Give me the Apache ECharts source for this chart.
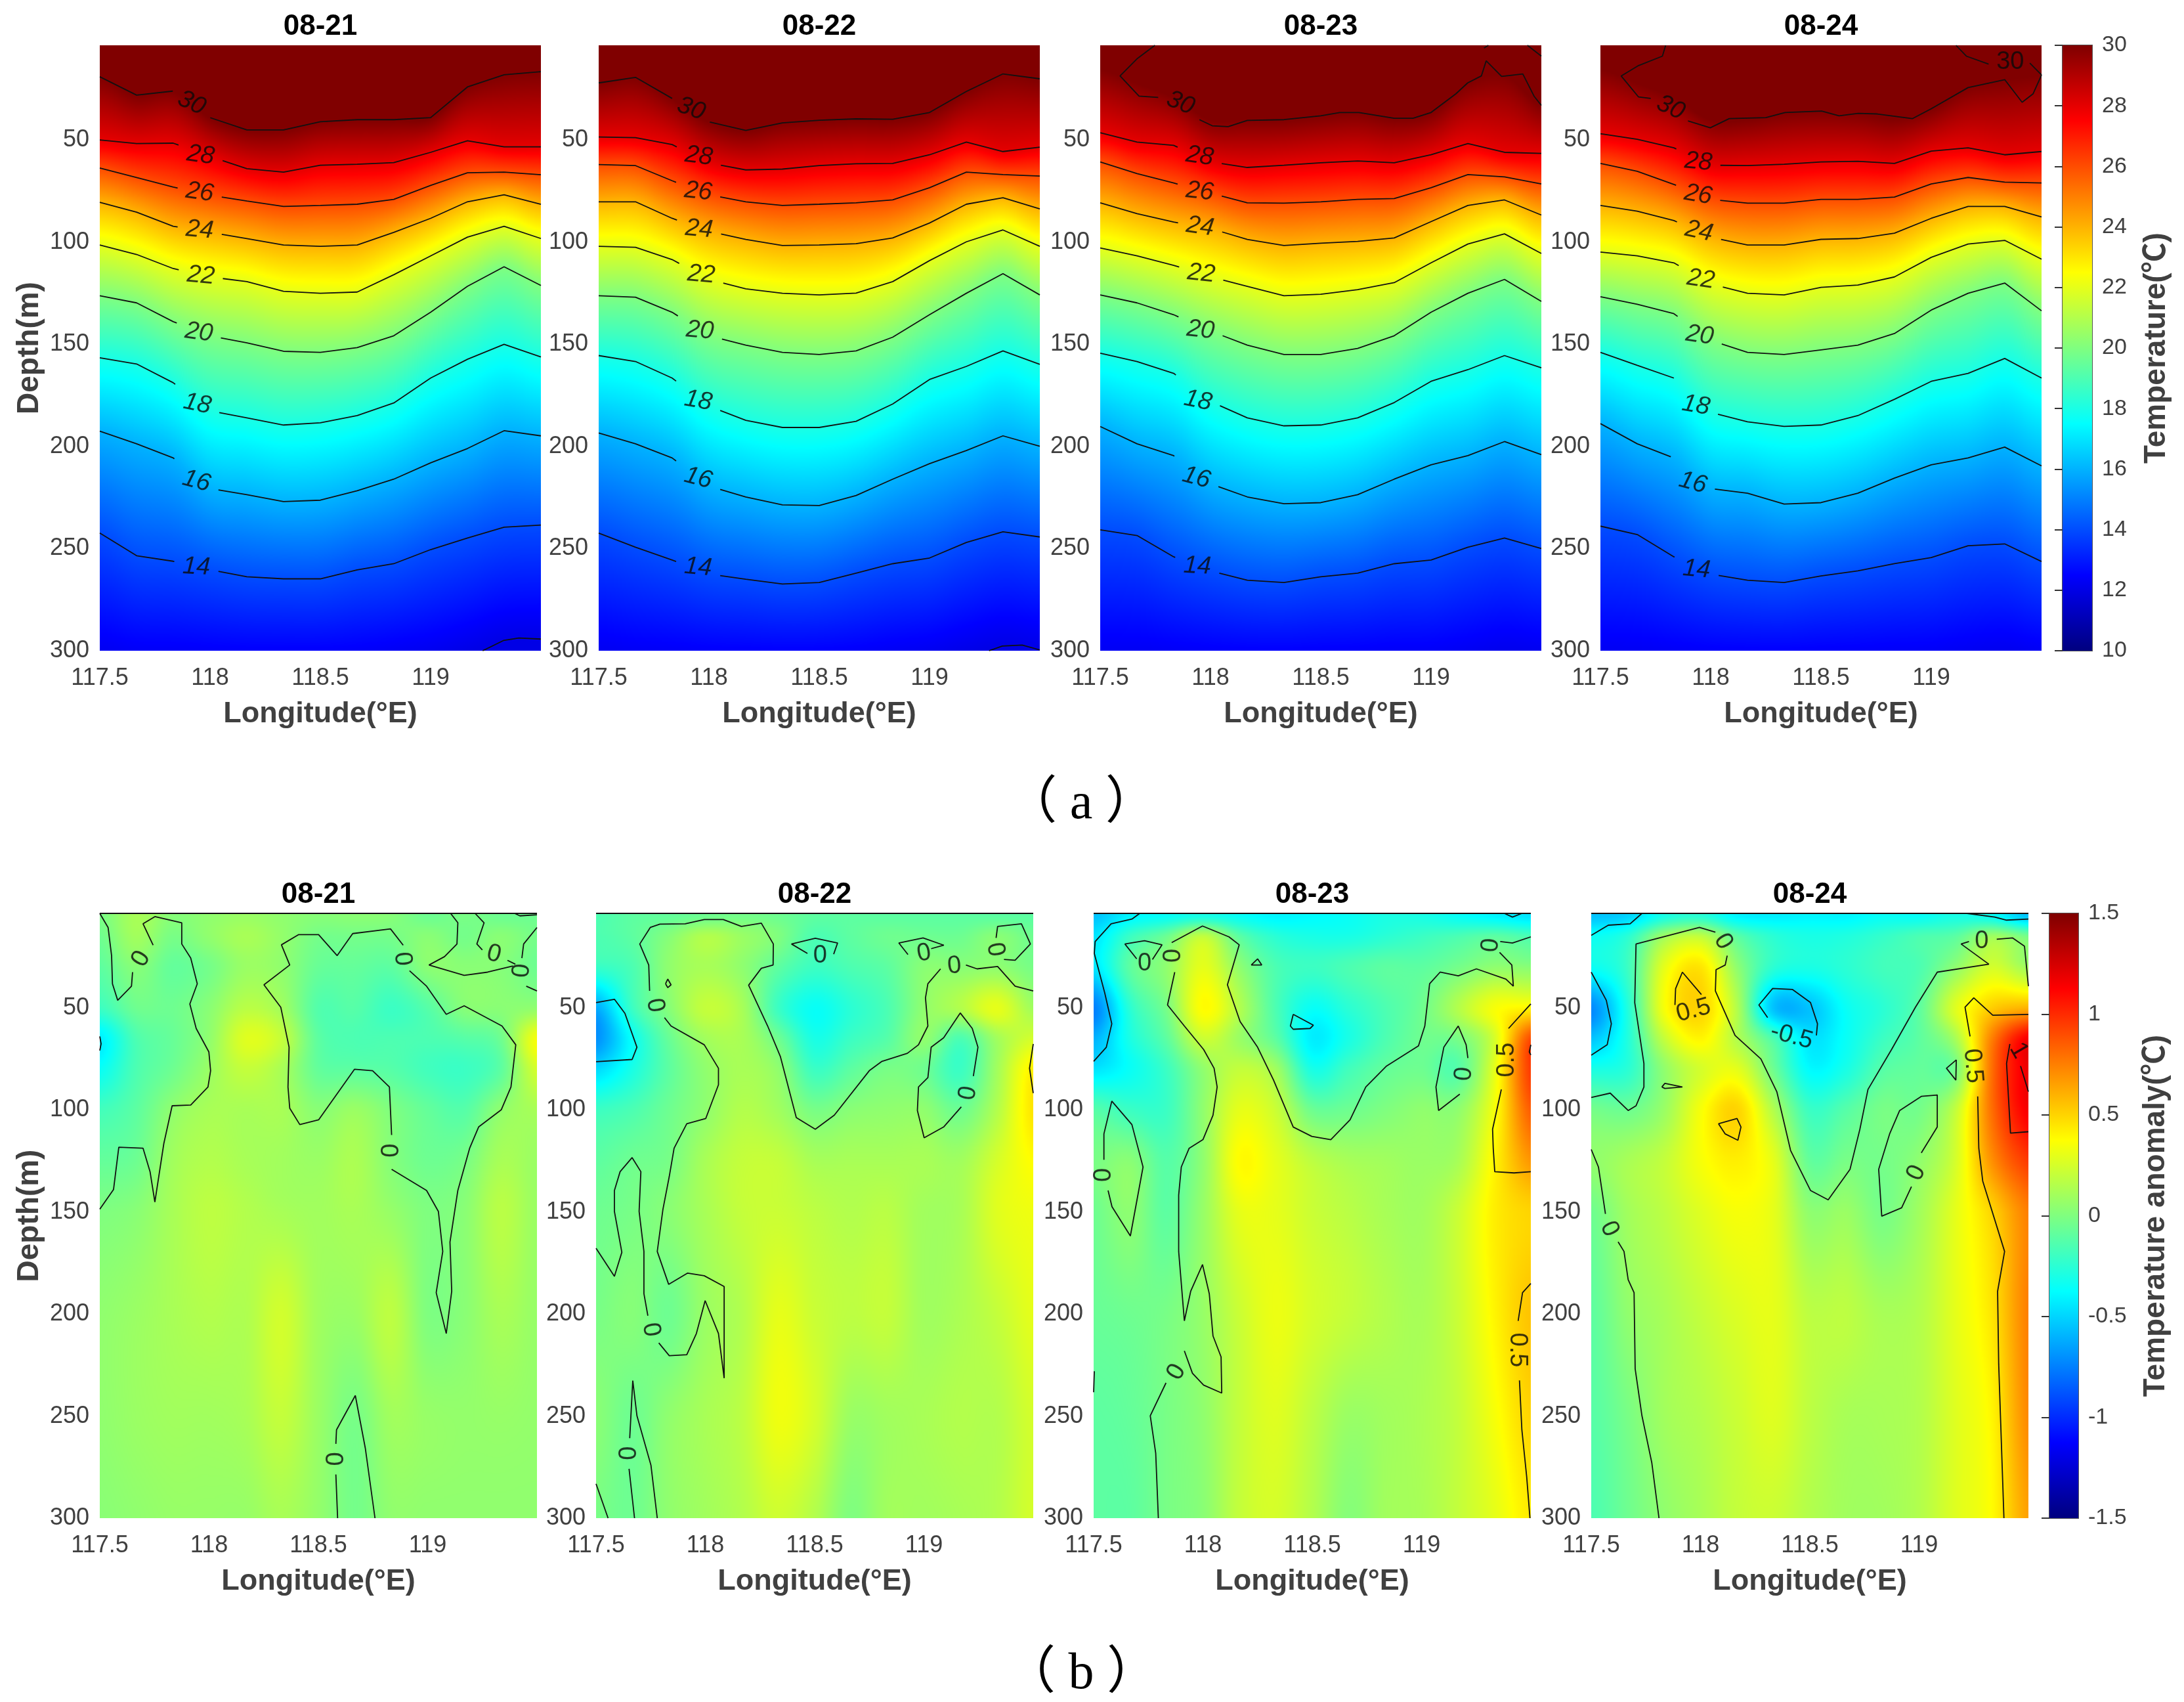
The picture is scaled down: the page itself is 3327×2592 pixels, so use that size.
<!DOCTYPE html>
<html><head><meta charset="utf-8">
<style>html,body{margin:0;padding:0;background:#fff}#c{width:3327px;height:2592px}</style>
<script src="https://cdn.jsdelivr.net/npm/echarts@6/dist/echarts.min.js"></script>
</head><body><div id="c"></div>
<script>
// ---------- shared axes ----------
const days = ['08-21','08-22','08-23','08-24'];
const lonTicks = [117.5,118,118.5,119];
const depthTicks = [50,100,150,200,250,300];
const lonMin = 117.5, lonMax = 119.5, depthMin = 3.6, depthMax = 300;
const lonNodes = [117.5,117.667,117.833,118,118.167,118.333,118.5,118.667,118.833,119,119.167,119.333,119.5];
const depthRows = [5,15,30,50,65,80,100,125,150,200,250,300];
const isoLevels = [30,28,26,24,22,20,18,16,14,12];

// ---------- (a) isotherm depth (m) at lonNodes, one row per isoLevels entry ----------
const isoDay21 = [
 [19,28,26,39,45,45,41,40,40,39,24,18,16.5],
 [49.9,51.7,51.5,58,64,65.7,62.3,61.8,61,56,50.3,53.3,53.3],
 [63.7,68.3,73,77,79.8,82.5,82,81.4,79,72.2,66,65.7,67],
 [80.5,85.3,92.2,95.2,98.2,101.4,102,101.4,95.2,88.3,80.2,76.8,81.4],
 [101.4,106,112.9,117,119.3,124,125,124.4,115.9,106.7,97.5,92.2,98.2],
 [126.2,129.7,138.9,145.8,149.3,153.4,153.9,151.6,145.8,134.3,121.6,112,121.2],
 [156.6,159.6,168.8,182.6,186,189.5,188.4,184.9,178.7,166.5,157.3,150,156.2],
 [192.5,198.7,205.6,220.6,223.6,227,226.3,221.7,216,208,201,192.3,194.8],
 [242.4,253.5,256.2,260.4,263.8,264.8,264.8,260.4,257.4,250.5,244.8,239.5,238.5],
 [308,310,310,310,310,310,310,310,308,306,301,295,294]];
const isoDay22 = [
 [22,19.3,29.6,41.1,45.3,41.6,40.3,39.6,39.8,36.5,26.2,17.6,20],
 [48.5,48.8,52.2,61.2,64.6,64.2,62.5,61.6,61.4,57.2,51,55.6,53.5],
 [62,62.5,69.9,76.8,80.2,82,81.4,80.7,79.3,73.3,65.7,66.9,67.6],
 [80.2,80.2,88.3,94.7,98.6,101.6,101.4,100.7,97.9,90.6,81.4,78.2,83.7],
 [102,102.5,108.5,118.2,122.8,125,125.8,124.9,119.3,109,99.8,94,102],
 [126.2,126.9,134.3,145.8,150.4,153.9,155,153.2,146.5,135.5,125,115.4,125.8],
 [155.5,158.4,166.5,180.3,187.2,190.7,190.7,187.7,179.2,167.2,160.8,153.2,159.8],
 [193.4,198.7,205.6,219.4,224.7,228.6,228.9,224,216,208.4,202,194.8,199.9],
 [242.4,249.3,255.6,262.5,265,267.3,266.6,262,257.4,254.6,247,241.8,244.3],
 [308,310,310,310,310,310,310,310,308,306,302,298,300]];
const isoDay23 = [
 [15,22,29,40,40,40,38,36.5,39.3,36.5,22,18,33],
 [46.4,51,52.6,60.7,63.4,62.3,61.1,60.2,61.1,57.2,51.7,56,56.5],
 [60.7,66.4,71,76,80.7,80.9,80.2,79,78.6,73.3,66.9,68,71.5],
 [80.7,86,90.1,93.3,98.6,101.6,100.5,99.6,97.9,89.9,82,79.3,86.7],
 [102.8,106.7,111.3,117,121.6,126.2,125.5,123.2,119.8,110.1,100.9,95.9,105.5],
 [125.8,129.7,135.5,143.5,150.4,155,155,152,145.8,134.3,125,118.2,129],
 [154.3,158.4,164.2,178,186,189.9,189.5,186,178.5,168.1,162.4,155.5,161.5],
 [190.2,198.7,204.5,218.3,224.7,228,227.5,223.6,216,209,204.5,197.6,204],
 [240.8,243.6,254,260.9,265.5,266.6,263.8,262,257.4,255.6,249.3,244.8,250],
 [310,310,310,310,310,310,310,310,310,310,308,305,306]];
const isoDay24 = [
 [15,22,29,40,40,37,36,37,39.5,35,24,20.4,18],
 [46.9,49.6,53.8,62.3,62.5,61.8,60.7,60.4,61.4,55.4,53.8,57.2,55.6],
 [61.4,65.3,71.7,79,80.9,80.9,79,79,77.9,71.5,68.3,70.6,71],
 [82,84.8,89.4,97.5,101.4,101.4,98.6,98.2,95.6,88.3,82.5,82.5,87.6],
 [104.8,106.7,110.1,120.5,125,125.8,122.1,121,117,107.4,100.9,99.1,108.3],
 [126.7,130.4,135,148.1,153.9,155,152.7,150.4,144.7,133.2,125,120,133.6],
 [153.9,160.3,166.5,183.3,187.9,190.2,189.5,184.9,176.9,168.1,164.2,156.9,166.5],
 [188.8,198.7,205.6,220.6,222.9,228.2,227.5,222.9,215.5,209,205.6,200.3,209.5],
 [239,243.1,254,262.5,265.5,266.6,263.4,260.9,257.4,254.4,248.6,247.7,256.3],
 [310,310,310,310,310,310,310,310,310,310,308,306,308]];

// contour labels: value, lon, depth, rotation in degrees
const labelsA21 = [['30',117.916,31.9,-25],['28',117.957,57.4,-8],['26',117.953,75.6,-8],['24',117.953,94,-5],['22',117.958,116.4,-5],['20',117.949,144.2,-8],['18',117.942,179.2,-12],['16',117.938,217,-15],['14',117.938,259,-3]];
const labelsA22 = [['30',117.919,34.7,-20],['28',117.954,57.9,-7],['26',117.951,75.2,-6],['24',117.955,93.6,-5],['22',117.965,115.9,-5],['20',117.959,143.3,-5],['18',117.951,177.6,-10],['16',117.951,215.5,-15],['14',117.951,259.2,-5]];
const labelsA23 = [['30',117.864,31.9,-22],['28',117.951,57.9,-8],['26',117.951,75.2,-6],['24',117.953,92.4,-8],['22',117.958,115.4,-6],['20',117.955,143,-6],['18',117.943,177.6,-12],['16',117.936,215.3,-15],['14',117.94,258.6,-3]];
const labelsA24 = [['30',117.818,34.2,-25],['28',117.944,60.7,-5],['26',117.943,76.8,-10],['24',117.947,94.7,-12],['22',117.955,118.2,-8],['20',117.95,145.6,-8],['18',117.933,179.9,-10],['16',117.919,217.8,-15],['14',117.936,260.2,-5],['30',119.358,11.9,0]];

// extra hand-read (a) contour pieces; the 30 degree line folds back on 08-23 and 08-24
const line12A21 = [[119.236,300],[119.33,295],[119.4,293.8],[119.5,294.3]];
const line12A22 = [[119.27,300],[119.33,297.7],[119.42,297.2],[119.5,299.6]];
const line30A23 = [[117.748,3.6],[117.669,10],[117.59,18.6],[117.676,28.5],[117.763,29.1],[null,null],[117.95,40],[118.008,43],[118.08,43.4],[118.167,40.4],[118.333,40],[118.5,38.1],[118.586,36.5],[118.673,36.5],[118.833,39.3],[118.918,39.3],[119,36.5],[119.113,27.3],[119.166,22],[119.228,18.6],[119.25,11.2],[119.32,18.8],[119.416,17.6],[119.467,28.5],[119.5,33],[null,null],[119.437,3.6],[119.5,8.9],[null,null],[119.24,5],[119.26,3.6]];
const line30A24 = [[117.796,3.6],[117.781,8.9],[117.673,13.5],[117.594,18.6],[117.673,28.9],[117.728,29.6],[null,null],[117.897,40.6],[117.998,44],[118.084,39.5],[118.25,39],[118.337,36.5],[118.503,35.8],[118.582,38.1],[118.669,36.9],[118.755,37.2],[118.914,39.5],[118.999,34.7],[119.167,24.3],[119.333,20.4],[119.412,31.5],[119.462,27.3],[119.5,18.1],[null,null],[119.112,3.6],[119.159,8.9],[119.26,12.8],[null,null],[119.447,12.3],[119.5,18.1]];

// ---------- (b) anomaly (deg C): one row per depthRows entry, one column per lonNodes entry ----------
const anomDay21 = [
 [-.02,.12,.02,.05,.08,.05,.02,.03,.02,-.05,-.02,-.05,-.05],
 [-.05,.1,-.02,.05,.12,.06,-.03,-.03,-.03,.03,-.03,.03,-.03],
 [-.1,.02,-.08,-.03,.08,.05,-.07,-.08,-.1,.03,.03,.02,-.05],
 [-.2,-.05,-.05,.03,.17,.1,-.13,-.12,-.2,-.12,.02,.03,.05],
 [-.42,-.15,-.07,.05,.28,.2,-.1,-.15,-.15,-.15,-.12,-.05,.35],
 [-.35,-.15,-.05,.08,.2,.12,-.08,-.1,-.12,-.18,-.2,-.1,.25],
 [-.18,-.1,.05,.12,.12,.12,.03,.08,0,-.08,-.12,.05,.12],
 [-.08,-.05,.1,.15,.12,.1,.08,.13,.02,-.05,-.02,.12,.08],
 [0,.03,.12,.18,.15,.12,.1,.12,.07,0,.03,.17,.08],
 [.05,.08,.12,.15,.14,.24,.1,.08,.18,0,.03,.12,.07],
 [.05,.08,.1,.1,.12,.2,.08,-.02,.1,.07,.06,.07,.06],
 [.03,.05,.07,.07,.07,.12,.06,-.03,.05,.05,.05,.05,.05]];
const anomDay22 = [
 [-.15,-.1,-.08,-.05,-.03,-.05,-.1,-.1,-.1,-.1,-.1,-.1,-.1],
 [-.15,-.1,.02,.15,.08,0,-.15,-.1,-.05,-.05,-.05,.03,-.05],
 [-.22,-.15,.05,.12,.05,-.1,-.2,-.15,-.1,.03,.03,.05,-.02],
 [-.62,-.2,.02,.2,.12,-.2,-.35,-.25,-.15,.05,.15,.3,.1],
 [-.7,-.35,-.07,.1,.12,-.05,-.3,-.2,-.12,.05,-.15,.1,.25],
 [-.48,-.3,-.1,.05,.12,.05,-.2,-.1,-.02,-.05,-.2,.1,.42],
 [-.2,-.15,-.05,.05,.15,.1,-.02,.03,.05,.05,-.05,.15,.45],
 [-.1,-.05,-.02,.12,.2,.2,.12,.12,.12,.12,.1,.25,.38],
 [-.05,-.02,.03,.12,.2,.22,.18,.15,.17,.1,.12,.28,.33],
 [-.02,.02,-.05,.08,.15,.3,.22,.18,.2,.1,.13,.2,.3],
 [.03,-.05,.05,.12,.18,.33,.25,.08,.1,.12,.15,.15,.25],
 [-.02,-.05,.05,.1,.15,.23,.15,0,.1,.1,.12,.15,.25]];
const anomDay23 = [
 [-.55,-.4,-.35,-.3,-.35,-.4,-.38,-.35,-.3,-.3,-.35,-.4,-.45],
 [-.45,-.2,-.05,.2,-.1,-.25,-.3,-.3,-.25,-.2,-.15,-.1,-.15],
 [-.45,-.1,.05,.3,.05,-.15,-.2,-.15,-.1,-.1,-.03,.05,.03],
 [-.75,-.25,-.02,.38,.15,-.15,-.35,-.25,-.15,-.05,.15,.35,.4],
 [-.6,-.3,-.1,.22,.08,-.1,-.42,-.3,-.15,-.05,-.02,.25,.9],
 [-.45,-.35,-.2,.05,.2,.1,-.3,-.18,-.08,-.05,-.12,.3,.95],
 [-.12,-.2,-.2,.05,.3,.22,-.05,-.05,0,.05,.05,.35,.85],
 [-.02,.03,-.12,.05,.38,.3,.18,.12,.1,.08,.12,.4,.68],
 [-.05,.04,-.1,.07,.3,.3,.22,.17,.12,.1,.22,.42,.5],
 [-.07,-.05,-.02,.07,.22,.32,.25,.2,.15,.12,.22,.4,.55],
 [-.1,-.08,-.02,.05,.2,.28,.18,.08,.1,.13,.2,.35,.5],
 [-.1,-.1,-.02,.03,.2,.25,.15,.02,.1,.12,.2,.3,.43]];
const anomDay24 = [
 [-.55,-.5,-.3,-.25,-.4,-.42,-.4,-.4,-.35,-.35,-.3,-.35,-.55],
 [-.35,-.25,.1,.2,-.1,-.25,-.3,-.28,-.22,-.15,-.1,.1,-.02],
 [-.35,-.2,.3,.45,.05,-.25,-.3,-.25,-.18,-.15,.05,.25,.1],
 [-.72,-.28,.35,.5,.15,-.55,-.55,-.35,-.25,-.1,.28,.52,.6],
 [-.55,-.28,.2,.4,.15,-.15,-.45,-.35,-.2,-.1,.12,.75,1.15],
 [-.3,-.25,.05,.25,.3,-.05,-.38,-.3,-.12,-.08,-.02,.8,1.18],
 [-.03,-.05,.08,.35,.5,.15,-.2,-.12,-.02,-.03,.2,.8,1.15],
 [.05,.12,.2,.35,.42,.3,-.08,-.02,-.03,.05,.25,.7,.95],
 [-.05,.1,.18,.28,.35,.3,.05,.08,-.02,.1,.3,.5,.75],
 [-.1,.05,.12,.2,.27,.3,.18,.18,.12,.15,.3,.45,.75],
 [-.12,-.02,.1,.15,.22,.28,.18,.12,.12,.15,.28,.4,.72],
 [-.15,-.05,.05,.12,.2,.22,.15,.1,.1,.15,.28,.38,.65]];

// ---------- (b) contour polylines [lon, depth]; [null,null] breaks a line ----------
const B = [null,null];
const contoursB21 = [
 [[117.5,3.6],[117.538,10.5],[117.554,24.3],[117.558,38.1],[117.582,46.2],[117.645,39.3],[117.65,32.4],B,[117.744,19.2],[117.698,8.7],[117.752,5.2],[117.875,8.2],[117.875,18.6],[117.916,25.5],[117.946,38.1],[117.912,48],[117.941,60],[117.999,71.5],[118.007,80.7],[117.995,88.7],[117.916,97.5],[117.831,97.9],[117.793,116.4],[117.752,145.1],[117.73,130.2],[117.698,118.7],[117.587,118.2],[117.563,138.9],[117.5,148.6]],
 [[118.888,19.2],[118.83,11.2],[118.657,13.5],[118.586,24.3],[118.501,14],[118.41,14],[118.331,19],[118.369,28.9],[118.251,38.6],[118.328,49.6],[118.366,69.2],[118.361,88.7],[118.369,99.1],[118.415,107.1],[118.501,104.8],[118.665,80],[118.748,80.7],[118.825,88.7],[118.835,112.2],B,[118.835,129],[118.995,139.4],[119.049,149.7],[119.069,169.3],[119.039,189.5],[119.085,209.5],[119.11,188.8],[119.102,164.7],[119.138,139.4],[119.192,118.7],[119.233,108.3],[119.337,99.8],[119.381,88.7],[119.403,68],[119.34,58.8],[119.167,48.9],[119.085,53.1],[118.995,39.3],[118.917,31.7]],
 [[119.105,3.6],[119.138,8.2],[119.134,18.6],[119.077,24.8],[119.006,28.9],[119.167,34],[119.274,32.4],[119.39,29.4],B,[119.451,39.3],[119.5,41.6]],
 [[119.217,3.6],[119.258,8.2],[119.225,18.6],[119.25,21.5],B,[119.365,26.6],[119.401,28.5]],
 [[119.431,25.5],[119.439,18.6],[119.5,10.5]],
 [[119.398,3.6],[119.422,4.8],[119.5,4.3]],
 [[118.588,300],[118.58,278.6],B,[118.58,263.6],[118.583,256.7],[118.669,239.9],[118.715,265.9],[118.759,300]],
 [[117.5,63.9],[117.506,67.5],[117.5,70.8]]];
const labelsB21 = [['0',117.689,25.9,60],['0',118.885,25.9,-85],['0',119.303,23.6,-15],['0',119.431,31.7,85],['0',118.835,119.8,90],['0',118.583,271,90]];

const contoursB22 = [
 [[117.745,41.6],[117.741,28.9],[117.7,18.6],[117.748,10.5],[117.792,8.9],[117.908,8.7],[117.995,6.6],[118.082,6.6],[118.165,10],[118.256,8.4],[118.311,18.6],[118.31,28.9],[118.256,30.5],[118.198,38.8],[118.285,58.8],[118.343,73.7],[118.416,103.7],[118.503,109.4],[118.59,102.5],[118.75,80.7],[118.808,76.1],[118.924,72.2],[118.975,68],[119.018,58.8],[119.007,45],[119.018,38.1],[119.076,30.8],B,[119.192,28.9],[119.243,30.8],[119.337,29.6],[119.417,39.3],[119.5,41.6]],
 [[117.813,54.7],[117.843,58.8],[117.995,68],[118.06,79.5],[118.06,87.6],[118.002,104.1],[117.915,106.7],[117.857,118.7],[117.835,132.5],[117.806,148.6],[117.78,169.3],[117.832,185.4],[117.919,179.9],[117.995,181.2],[118.086,186.5],[118.086,231.4],[118.06,209.5],[117.999,193.4],[117.959,209.5],[117.915,219.9],[117.835,220.4],[117.787,214.1],B,[117.737,200.8],[117.719,190],[117.719,169.3],[117.697,149.7],[117.705,130.2],[117.665,123.3],[117.61,130.2],[117.584,139.4],[117.584,149.7],[117.618,169.7],[117.584,181.5],[117.5,167.7]],
 [[117.5,47.3],[117.584,45.7],[117.632,52.6],[117.687,69.2],[117.665,75.2],[117.5,76.3]],
 [[117.818,38.1],[117.828,35.8],[117.843,38.6],[117.828,40],[117.818,38.1]],
 [[118.467,23.2],[118.394,18.6],[118.503,15.8],[118.605,18.1],[118.587,23.6]],
 [[118.927,23.8],[118.885,18.1],[118.996,15.6],[119.091,19.2],[119.033,20.9]],
 [[119.33,15.6],[119.337,10],[119.446,8.7],[119.487,18.6],[119.417,26.6],[119.366,26.2]],
 [[119.226,83.4],[119.247,69.2],[119.221,60],[119.166,52.4],[119.09,64.6],[119.033,69.2],[119.018,84.1],[118.975,88.7],[118.97,100.2],[119.001,113.6],[119.09,108.3],[119.171,98.4]],
 [[119.5,67.6],[119.483,79.5],[119.5,91.7]],
 [[117.676,300],[117.651,275.8],B,[117.654,260.8],[117.668,232.6],[117.687,249.8],[117.751,274],[117.78,300]],
 [[117.5,283.2],[117.555,300]]];
const labelsB22 = [['0',117.77,48.7,-80],['0',118.525,24.3,0],['0',119.0,23.2,10],['0',119.139,29.4,5],['0',119.326,21.3,-80],['0',119.202,91.7,80],['0',117.751,207.7,-80],['0',117.651,268.2,90]];

const contoursB23 = [
 [[117.711,3.6],[117.675,6.4],[117.58,8.7],[117.507,17.4],[117.503,23.2],[117.551,42.7],[117.583,57.7],[117.558,69.2],[117.5,76.1]],
 [[117.697,25.9],[117.643,18.6],[117.733,17],[117.813,19],[117.769,26.2]],
 [[117.857,17.9],[117.998,9.8],[118.119,15.1],[118.166,19],[118.112,38.6],[118.17,56.6],[118.25,69.2],[118.323,85.3],[118.413,108.3],[118.498,112.9],[118.585,114.5],[118.673,104.8],[118.745,88.7],[118.84,78.4],[118.986,68.5],[119.015,58.8],[119.037,38.1],[119.085,32.4],[119.168,34.2],[119.251,30.8],[119.386,35.8],[119.42,39.3],[119.413,28.9],[119.357,22.7]],
 [[119.36,17.4],[119.416,18.1],[119.5,15.1]],
 [[117.871,32.4],[117.838,48.5],[117.915,58.8],[118.003,70.3],[118.051,79.5],[118.065,88.7],[118.046,102.5],[118,114.5],[117.937,118.7],[117.901,127.9],[117.889,141.7],[117.889,169.3],[117.915,203.3],[117.944,188.8],[117.998,175.7],[118.029,190],[118.046,210.7],[118.083,221],[118.086,238.7],[118.003,234.8],[117.952,229],[117.915,218],B,[117.831,233.7],[117.759,249.8],[117.784,268.2],[117.796,300]],
 [[118.221,28.9],[118.25,25.9],[118.269,28.9],[118.221,28.9]],
 [[118.413,53.1],[118.505,58.4],[118.49,60],[118.413,60.4],[118.4,58.8],[118.413,53.1]],
 [[117.547,124.4],[117.547,111.7],[117.583,95.6],[117.675,107.1],[117.726,127.9],[117.668,161.7],[117.584,147.4],[117.566,139.4]],
 [[119.212,74.5],[119.204,68],[119.168,58.8],[119.102,69.2],[119.066,88.7],[119.078,100.2],[119.175,92.2]],
 [[119.398,60],[119.5,48]],
 [[119.365,89.9],[119.325,109.4],[119.328,118.7],[119.335,130.2],[119.423,130.8],[119.5,130.2]],
 [[119.5,68],[119.493,71.5],[119.5,73]],
 [[119.5,185],[119.462,189.5],[119.442,203.3],B,[119.448,232.5],[119.459,256.7],[119.481,279.7],[119.496,300]],
 [[117.503,228],[117.5,238.3]],
 [[119.379,3.6],[119.416,5.4],[119.459,3.6]]];
const labelsB23 = [['0',117.733,28.2,0],['0',117.864,24.3,90],['0',119.317,19.2,85],['0',119.194,82.3,85],['0',117.548,131.8,90],['0',117.879,228.4,60],['0.5',119.391,75.4,90],['0.5',119.437,217.6,-90]];

const contoursB24 = [
 [[117.5,14.4],[117.578,9.4],[117.678,8.7],[117.732,3.6]],
 [[117.5,32.4],[117.569,46.2],[117.592,57.7],[117.573,68],[117.5,73.1]],
 [[118.068,12.8],[117.995,10.5],[117.705,18.6],[117.699,47.3],[117.741,77.2],[117.741,88.7],[117.705,97.9],[117.669,100.2],[117.587,91.7],[117.5,93.8]],
 [[118.122,24.3],[118.113,28.9],[118.071,31.2],[118.068,41.6],[118.158,63.4],[118.276,74.9],[118.349,91],[118.412,119.8],[118.503,139.4],[118.584,144],[118.684,129],[118.729,109.4],[118.766,89.9],[118.874,70.3],[118.983,49.6],[119.083,32.4],[119.319,28.5],[119.192,18.6],[119.228,17.4],B,[119.355,16.3],[119.427,15.6],[119.482,19.7],[119.5,39.3]],
 [[119.219,3.6],[119.346,5.4],[119.4,6.9],[119.5,6.4]],
 [[117.883,48.5],[117.886,40.5],[117.917,32.4],[118.004,43.4]],
 [[118.307,54.7],[118.267,48.5],[118.33,40.4],[118.421,40.9],[118.503,47.3],[118.535,57.7],[118.53,63.4]],
 [[118.082,106.7],[118.167,104.1],[118.185,108.3],[118.171,114.8],[118.113,111.7],[118.082,106.7]],
 [[117.823,88.7],[117.837,86.9],[117.917,88.7],[117.837,89.4],[117.823,88.7]],
 [[119.17,75.4],[119.125,79.5],[119.168,85.3],[119.17,75.4]],
 [[119.01,121],[119.083,108.3],[119.083,92.6],[119.01,93.3],[118.911,100.2],[118.865,111.7],[118.815,129],[118.829,152],[118.92,147.9],[118.965,137.5]],
 [[117.5,119.3],[117.533,127.9],[117.565,150.9],B,[117.623,164.6],[117.65,169.3],[117.669,183.1],[117.696,189.5],[117.701,226.8],[117.732,249.8],[117.777,272.8],[117.81,300]],
 [[119.233,63.9],[119.21,49.6],[119.25,45],[119.337,53.5],[119.5,53.1]],
 [[119.268,93.3],[119.273,118.7],[119.291,134.8],[119.391,169.3],[119.359,188.8],[119.364,224.5],[119.388,300]],
 [[119.5,91],[119.464,78.4],B,[119.415,67.6],[119.4,77.2],[119.418,111.3],[119.5,110.6]]];
const labelsB24 = [['0',118.104,17.4,-60],['0',119.286,17.4,0],['0.5',117.968,51.2,15],['-0.5',118.417,63.9,-15],['0.5',119.246,78.4,-85],['1',119.455,70.8,-60],['0',118.987,130.8,65],['0',117.583,158.3,-65]];

// ---------- layout and style ----------
const topLefts = [152,912,1676,2438], topW = 672, topY = 69, topH = 922;
const botLefts = [152,908,1666,2424], botW = 666, botY = 1391, botH = 921;
const FONT = '"Liberation Sans", Arial, sans-serif';
const GREY = '#404040';
const jetStops = [[0,'#00007f'],[0.125,'#0000ff'],[0.375,'#00ffff'],[0.625,'#ffff00'],[0.875,'#ff0000'],[1,'#7f0000']];

function jet(t){
  t = Math.max(0,Math.min(1,t));
  const c = v => Math.round(255*Math.max(0,Math.min(1,v)));
  return [c(1.5-Math.abs(4*t-3)), c(1.5-Math.abs(4*t-2)), c(1.5-Math.abs(4*t-1))];
}
function paint(w,h,valueAt,vMin,vMax){
  const cv = document.createElement('canvas'); cv.width=w; cv.height=h;
  const ctx = cv.getContext('2d'), img = ctx.createImageData(w,h);
  for(let y=0;y<h;y++){
    const d = depthMin+(y+.5)/h*(depthMax-depthMin);
    for(let x=0;x<w;x++){
      const lon = lonMin+(x+.5)/w*(lonMax-lonMin);
      const col = jet((valueAt(lon,d)-vMin)/(vMax-vMin)), k=(y*w+x)*4;
      img.data[k]=col[0];img.data[k+1]=col[1];img.data[k+2]=col[2];img.data[k+3]=255;
    }
  }
  ctx.putImageData(img,0,0);
  return cv;
}
function cr(a,b,c,d,t){return .5*(2*b+(c-a)*t+(2*a-5*b+4*c-d)*t*t+(3*b-a-3*c+d)*t*t*t);}
function isoFieldAt(rows){
  const C=lonNodes.length;
  return function(lon,d){
    const f=(lon-lonMin)/(lonMax-lonMin)*(C-1), i=Math.min(C-2,Math.floor(f)), u=f-i;
    let prev=null;
    for(let k=0;k<rows.length;k++){
      const q=rows[k], dk=cr(q[Math.max(0,i-1)],q[i],q[i+1],q[Math.min(C-1,i+2)],u);
      if(d<dk){
        if(k===0) return isoLevels[0];
        return isoLevels[k-1]+(isoLevels[k]-isoLevels[k-1])*(d-prev)/(dk-prev);
      }
      prev=dk;
    }
    return isoLevels[isoLevels.length-1];
  };
}
function gridFieldAt(rows){
  const R=rows.length,C=rows[0].length;
  const rowAt=r=>rows[Math.max(0,Math.min(R-1,r))];
  return function(lon,d){
    const f=(lon-lonMin)/(lonMax-lonMin)*(C-1), i=Math.min(C-2,Math.floor(f)), u=f-i;
    let j=0; while(j<R-2&&d>depthRows[j+1]) j++;
    const v=Math.max(0,Math.min(1,(d-depthRows[j])/(depthRows[j+1]-depthRows[j])));
    const inRow=r=>{const q=rowAt(r);return cr(q[Math.max(0,i-1)],q[i],q[i+1],q[Math.min(C-1,i+2)],u);};
    return cr(inRow(j-1),inRow(j),inRow(j+1),inRow(j+2),v);
  };
}
// break a contour where its inline label sits
function splitAtGap(pts,lonC,half){
  const L=lonC-half,Rr=lonC+half,left=[],right=[];
  const at=(a,b,x)=>[x,a[1]+(b[1]-a[1])*(x-a[0])/(b[0]-a[0])];
  for(let i=0;i<pts.length;i++){
    const p=pts[i],n=pts[i+1];
    if(p[0]<=L) left.push(p);
    if(p[0]>=Rr) right.push(p);
    if(n&&p[0]<=L&&n[0]>L) left.push(at(p,n,L));
    if(n&&p[0]<Rr&&n[0]>=Rr) right.push(at(p,n,Rr));
  }
  return left.concat([B],right);
}

const grids=[],xAxes=[],yAxes=[],series=[],titles=[];
function addPanel(idx,left,top,w,h,dayIdx,canvas,lines,labels,leftMost,topEdge,slanted){
  grids.push({left,top,width:w,height:h,containLabel:false});
  xAxes.push({gridIndex:idx,type:'value',min:lonMin,max:lonMax,interval:0.5,
    name:'Longitude(°E)',nameLocation:'middle',nameGap:74,
    nameTextStyle:{fontFamily:FONT,fontSize:45,fontWeight:'bold',color:GREY},
    axisLine:{show:false},axisTick:{show:false},splitLine:{show:false},
    axisLabel:{customValues:lonTicks,margin:24,fontFamily:FONT,fontSize:36,color:GREY}});
  yAxes.push({gridIndex:idx,type:'value',inverse:true,min:depthMin,max:depthMax,
    name:leftMost?'Depth(m)':'',nameLocation:'middle',nameGap:84,
    nameTextStyle:{fontFamily:FONT,fontSize:46,fontWeight:'bold',color:GREY},
    axisLine:{show:false},axisTick:{show:false},splitLine:{show:false},
    axisLabel:{customValues:depthTicks,margin:16,fontFamily:FONT,fontSize:36,color:GREY,padding:[7,0,0,0]}});
  series.push({type:'custom',name:'field '+days[dayIdx],xAxisIndex:idx,yAxisIndex:idx,silent:true,z:1,clip:false,
    coordinateSystem:'cartesian2d',encode:{x:[0,2],y:[1,3]},data:[[lonMin,depthMin,lonMax,depthMax]],
    renderItem:function(params,api){
      const a=api.coord([api.value(0),api.value(1)]),b=api.coord([api.value(2),api.value(3)]);
      return {type:'image',style:{image:canvas,x:a[0],y:a[1],width:b[0]-a[0],height:b[1]-a[1]}};
    }});
  lines.forEach(pts=>series.push({type:'line',xAxisIndex:idx,yAxisIndex:idx,data:pts,showSymbol:false,symbol:'none',silent:true,z:2,
    connectNulls:false,lineStyle:{color:'#111',width:1.8},clip:true}));
  if(topEdge) series.push({type:'line',xAxisIndex:idx,yAxisIndex:idx,data:[[lonMin,depthMin],[lonMax,depthMin]],showSymbol:false,symbol:'none',silent:true,z:2,clip:false,lineStyle:{color:'#111',width:2}});
  series.push({type:'scatter',xAxisIndex:idx,yAxisIndex:idx,symbolSize:0,silent:true,z:3,clip:false,
    data:labels.map(l=>({value:[l[1],l[2]],name:l[0],label:{show:true,position:'inside',formatter:l[0],rotate:l[3],
      fontStyle:slanted&&l[3]!==0?'italic':'normal',fontFamily:FONT,fontSize:38,color:'#0a0a0a'}}))});
  titles.push({text:days[dayIdx],left:left+w/2-5,top:top-55,textAlign:'center',textStyle:{fontFamily:FONT,fontSize:44,fontWeight:'bold',color:'#000'}});
}

// (a)
[[isoDay21,labelsA21,[line12A21]],[isoDay22,labelsA22,[line12A22]],[isoDay23,labelsA23,[line30A23]],[isoDay24,labelsA24,[line30A24]]].forEach((set,i)=>{
  const rows=set[0],labs=set[1];
  const lines=[];
  rows.forEach((r,k)=>{
    const level=isoLevels[k];
    if(level===12) return;
    if(level===30&&i>=2) return;
    const lab=labs.find(l=>+l[0]===level);
    const pts=r.map((d,n)=>[lonNodes[n],d]);
    lines.push(splitAtGap(pts,lab[1],level===30?0.085:0.1));
  });
  set[2].forEach(l=>lines.push(l));
  addPanel(i,topLefts[i],topY,topW,topH,i,paint(336,461,isoFieldAt(rows),10,30),lines,labs,i===0,false,true);
});
// (b)
[[anomDay21,contoursB21,labelsB21],[anomDay22,contoursB22,labelsB22],[anomDay23,contoursB23,labelsB23],[anomDay24,contoursB24,labelsB24]].forEach((set,i)=>{
  addPanel(4+i,botLefts[i],botY,botW,botH,i,paint(333,460,gridFieldAt(set[0]),-1.5,1.5),set[1],set[2],i===0,true,false);
});
// colour bars
function addBar(idx,left,top,w,h,vMin,vMax,step,name,gap){
  grids.push({left,top,width:w,height:h,show:true,borderColor:'#555',borderWidth:2,backgroundColor:'transparent'});
  xAxes.push({gridIndex:idx,type:'value',min:0,max:1,show:false});
  yAxes.push({gridIndex:idx,type:'value',position:'right',min:vMin,max:vMax,interval:step,
    name,nameLocation:'middle',nameRotate:90,nameGap:gap,nameMoveOverlap:false,
    nameTextStyle:{fontFamily:'"Liberation Sans","Noto Sans CJK SC",sans-serif',fontSize:46,fontWeight:'bold',color:GREY},
    axisLine:{show:false},axisTick:{show:true,inside:true,length:12,lineStyle:{color:'#333',width:2}},splitLine:{show:false},
    axisLabel:{margin:15,fontFamily:FONT,fontSize:34,color:GREY,showMinLabel:true,showMaxLabel:true,padding:[7,0,0,0]}});
  series.push({type:'custom',xAxisIndex:idx,yAxisIndex:idx,silent:true,z:1,clip:false,encode:{x:0,y:[1,2]},data:[[0,vMin,vMax]],
    renderItem:function(params,api){
      const a=api.coord([0,api.value(2)]),b=api.coord([1,api.value(1)]);
      return {type:'rect',shape:{x:a[0],y:a[1],width:b[0]-a[0],height:b[1]-a[1]},
        style:{fill:new echarts.graphic.LinearGradient(0,1,0,0,jetStops.map(s=>({offset:s[0],color:s[1]})))}};
    }});
}
addBar(8,3142,topY,45,topH,10,30,2,'Temperature(℃)',75);
addBar(9,3122,botY,44,botH,-1.5,1.5,.5,'Temperature anomaly(℃)',95);

const capStyle={fontFamily:'"Liberation Serif","Noto Sans CJK SC",serif',fontSize:78,fontWeight:'normal',color:'#000'};
titles.push({text:'（ a ）',left:1642,top:1182,textAlign:'center',textStyle:capStyle});
titles.push({text:'（ b ）',left:1642,top:2507,textAlign:'center',textStyle:capStyle});

const chart=echarts.init(document.getElementById('c'),null,{renderer:'canvas',width:3327,height:2592});
chart.setOption({backgroundColor:'#fff',animation:false,title:titles,grid:grids,xAxis:xAxes,yAxis:yAxes,series});
</script></body></html>
